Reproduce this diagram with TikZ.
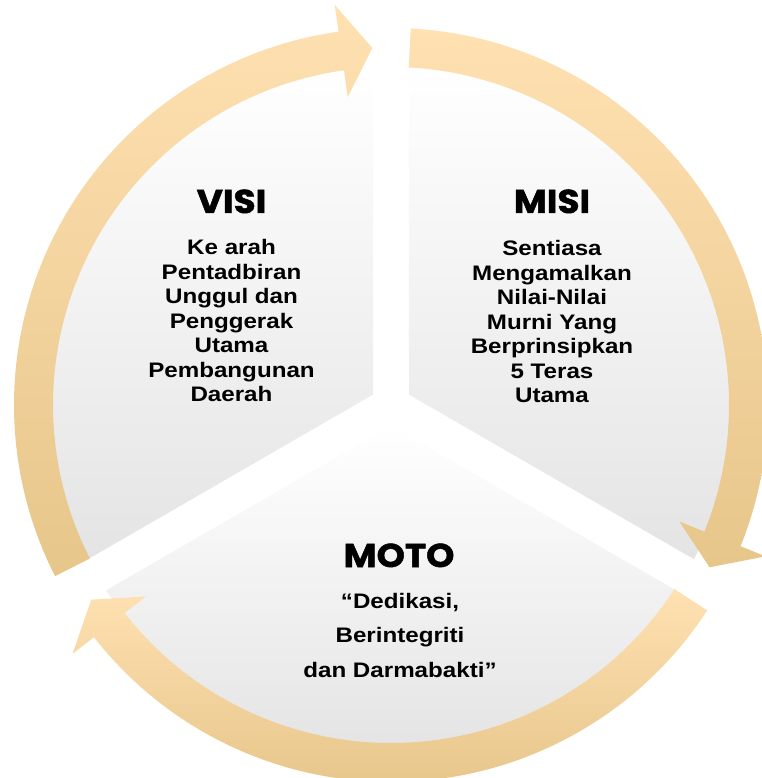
\documentclass[tikz,border=0pt]{standalone}
\usepackage{fontspec}
\newfontfamily\bodyfont{Liberation Sans}[FakeStretch=1.15]
\newfontfamily\headfont{Poppins}[FakeStretch=1.09,FakeBold=1.5]
\definecolor{ringtop}{HTML}{FFE1B2}
\definecolor{ringbot}{HTML}{E7C68A}
\definecolor{secbot}{HTML}{E4E4E4}
\definecolor{secmid}{HTML}{F7F7F7}
\newcommand{\rIn}{338}
\newcommand{\rOut}{377}
\newcommand{\rMid}{357.5}
\newcommand{\hIn}{311}
\newcommand{\hOut}{404}
\newcommand{\ringarrow}[1]{%
  \pgfmathsetmacro\headang{#1-109}%
  \pgfmathsetmacro\tipang{#1-114}%
  \path[ringseg] (#1:\rOut) arc[start angle=#1, end angle=\headang, radius=\rOut]
    -- (\headang:\hOut) -- (\tipang:\rMid) -- (\headang:\hIn) -- (\headang:\rIn)
    arc[start angle=\headang, end angle=#1, radius=\rIn] -- cycle;}
\begin{document}
\begin{tikzpicture}[x=1pt,y=1pt,
  sector/.style={top color=white, middle color=secmid, bottom color=secbot, draw=none},
  ringseg/.style={top color=ringtop, bottom color=ringbot, draw=none},
  heading/.style={font={\headfont\bfseries\fontsize{33}{36}\selectfont}, anchor=base, inner sep=0pt},
  bodytext/.style={font={\bodyfont\bfseries\fontsize{21}{24.5}\selectfont}, align=center, anchor=base, inner sep=0pt},
  motobody/.style={font={\bodyfont\bfseries\fontsize{21}{34.5}\selectfont}, align=center, anchor=base, inner sep=0pt},
]
\useasboundingbox (-391,-373) rectangle (370,405);
% sectors
\path[sector] (-18,10.39) -- (93.03:340) arc[start angle=93.03, end angle=206.97, radius=340] -- cycle;
\path[sector] (18,10.39) -- (-26.97:340) arc[start angle=-26.97, end angle=86.97, radius=340] -- cycle;
\path[sector] (0,-20.78) -- (213.03:340) arc[start angle=213.03, end angle=326.97, radius=340] -- cycle;
% ring arrows
\ringarrow{207}
\ringarrow{87}
\ringarrow{-33}
% texts (multi-line nodes are anchored at the baseline of their last line)
\node[heading] (visih) at (-159.5,192) {VISI};
\node[bodytext] (visib) at (-159.5,3) {Ke arah\\Pentadbiran\\Unggul dan\\Penggerak\\Utama\\Pembangunan\\Daerah};
\node[heading] (misih) at (161,192) {MISI};
\node[bodytext] (misib) at (161,2) {Sentiasa\\Mengamalkan\\Nilai-Nilai\\Murni Yang\\Berprinsipkan\\5 Teras\\Utama};
\node[heading] (motoh) at (8,-162) {MOTO};
\node[motobody] (motob) at (9,-272) {“Dedikasi,\\Berintegriti\\dan Darmabakti”};
\end{tikzpicture}
\end{document}
